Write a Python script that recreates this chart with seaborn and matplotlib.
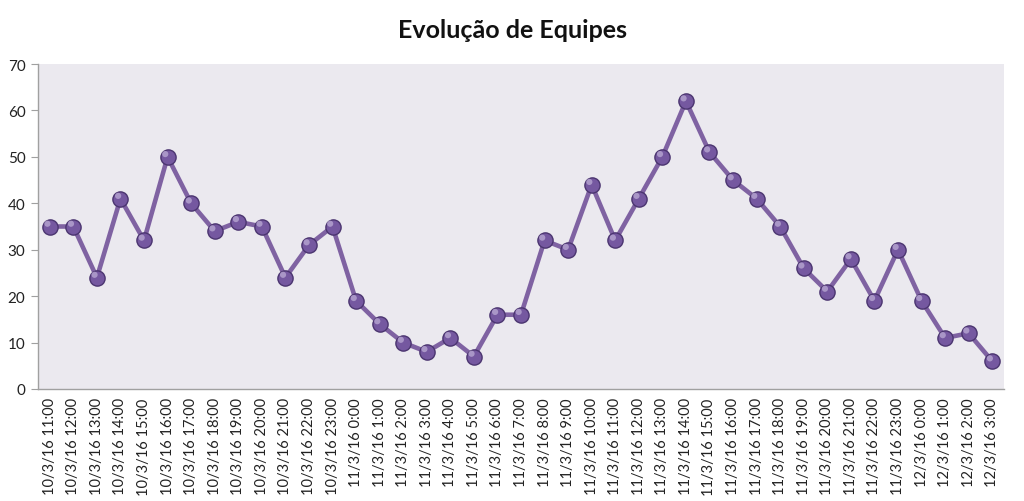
import matplotlib
matplotlib.use("Agg")
import matplotlib.pyplot as plt
import seaborn as sns
import numpy as np
import pandas as pd

labels = (["10/3/16 %d:00" % h for h in range(11, 24)]
          + ["11/3/16 %d:00" % h for h in range(0, 24)]
          + ["12/3/16 %d:00" % h for h in range(0, 4)])
values = [35, 35, 24, 41, 32, 50, 40, 34, 36, 35, 24, 31, 35, 19, 14, 10, 8, 11, 7,
          16, 16, 32, 30, 44, 32, 41, 50, 62, 51, 45, 41, 35, 26, 21, 28, 19, 30, 19,
          11, 12, 6]

df = pd.DataFrame({"idx": np.arange(len(labels)), "label": labels, "equipes": values})

sns.set_style("white")
plt.rcParams["font.family"] = ["Lato", "DejaVu Sans"]

fig = plt.figure(figsize=(10.24, 5.02), dpi=100)
ax = fig.add_axes([38 / 1024, 1 - 390 / 502, 966 / 1024, 325 / 502])
ax.set_facecolor("#EBE9EF")

sns.lineplot(data=df, x="idx", y="equipes", ax=ax, color="#7F62A2", linewidth=3.3,
             sort=False, zorder=2)
ax.scatter(df["idx"], df["equipes"], s=120, color="#7558A0", edgecolors="#4B3570",
           linewidths=1.0, zorder=3)
ax.scatter(df["idx"] - 0.1, df["equipes"] + 0.6, s=20, color="#B7A6D2",
           edgecolors="none", zorder=4, alpha=0.8)

ax.set_xlim(-0.5, len(labels) - 0.5)
ax.set_ylim(0, 70)
ax.set_yticks(range(0, 71, 10))
ax.set_xticks(df["idx"])
ax.set_xticklabels(labels, rotation=90, fontsize=10.5, color="#222222")
ax.set_xticks(np.arange(-0.5, len(labels), 1), minor=True)
ax.tick_params(axis="x", which="major", length=0, pad=6)
ax.tick_params(axis="x", which="minor", length=5, color="#A0A0A0", width=1)
ax.tick_params(axis="y", length=5, color="#A0A0A0", labelsize=11, labelcolor="#222222",
               left=True, pad=4)
for s in ["top", "right"]:
    ax.spines[s].set_visible(False)
for s in ["left", "bottom"]:
    ax.spines[s].set_color("#A0A0A0")
    ax.spines[s].set_linewidth(1)
ax.set_xlabel("")
ax.set_ylabel("")
ax.grid(False)

fig.text(512 / 1024, 1 - 31 / 502, "Evolução de Equipes", ha="center", va="center",
         fontsize=18, fontweight="bold", color="#111111")

fig.savefig("out.png", dpi=100)
